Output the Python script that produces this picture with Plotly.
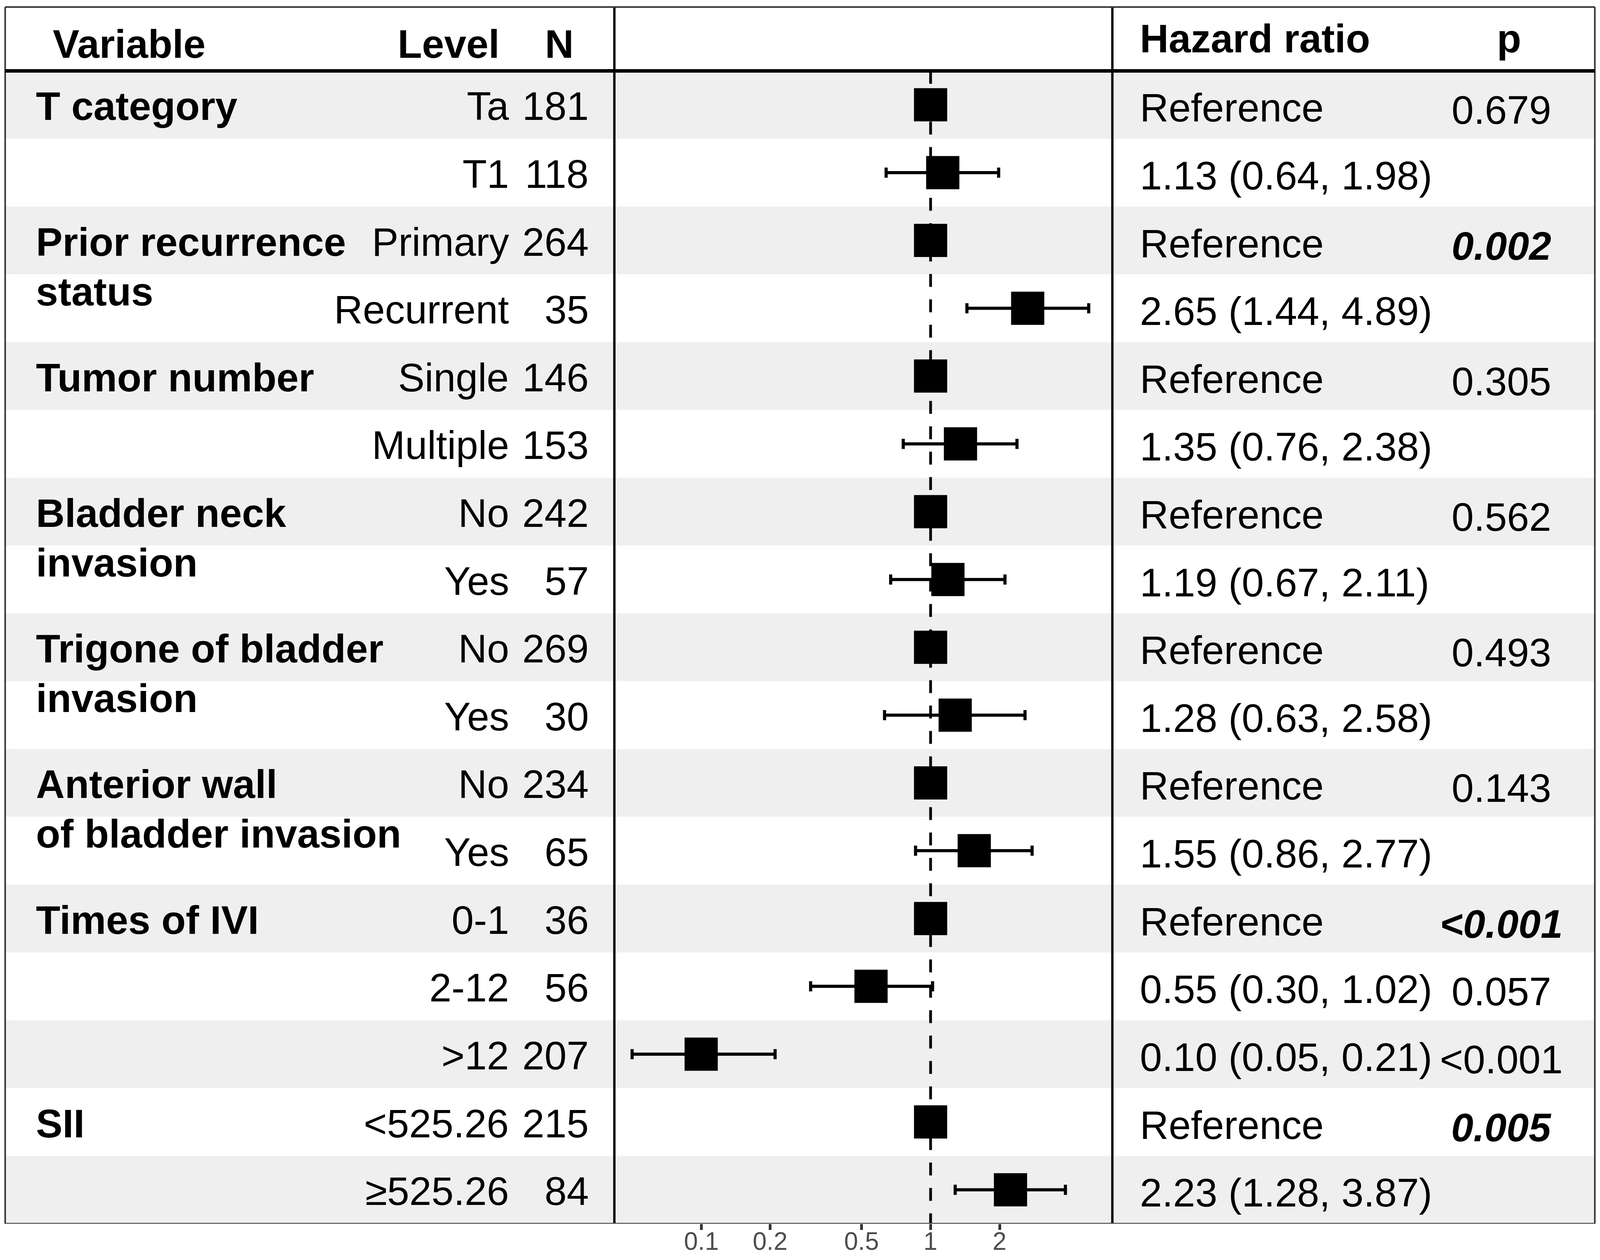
import math
import plotly.graph_objects as go

# table contents
variables = ["T category", "Prior recurrence\nstatus", "Tumor number", "Bladder neck\ninvasion",
             "Trigone of bladder\ninvasion", "Anterior wall\nof bladder invasion", "Times of IVI", "SII"]
variable_rows = [0, 2, 4, 6, 8, 10, 12, 15]

levels = ["Ta", "T1", "Primary", "Recurrent", "Single", "Multiple", "No", "Yes", "No", "Yes",
          "No", "Yes", "0-1", "2-12", "&gt;12", "&lt;525.26", "≥525.26"]
n_patients = [181, 118, 264, 35, 146, 153, 242, 57, 269, 30, 234, 65, 36, 56, 207, 215, 84]

hazard = [1, 1.13, 1, 2.65, 1, 1.35, 1, 1.19, 1, 1.28, 1, 1.55, 1, 0.55, 0.10, 1, 2.23]
ci_low = [None, 0.64, None, 1.44, None, 0.76, None, 0.67, None, 0.63, None, 0.86, None, 0.30, 0.05, None, 1.28]
ci_high = [None, 1.98, None, 4.89, None, 2.38, None, 2.11, None, 2.58, None, 2.77, None, 1.02, 0.21, None, 3.87]

p_values = ["0.679", "", "0.002", "", "0.305", "", "0.562", "", "0.493", "", "0.143", "",
            "&lt;0.001", "0.057", "&lt;0.001", "0.005", ""]
p_emphasis = [False, False, True, False, False, False, False, False, False, False, False, False,
              True, False, False, True, False]

tick_values = [0.1, 0.2, 0.5, 1, 2]
tick_labels = ["0.1", "0.2", "0.5", "1", "2"]

# the browser page is 4096 px wide, so the 4331 px wide layout is squeezed sideways
W, H = 4080, 3210
SX = 4096 / 4331
FONT = "Liberation Sans, Arial, sans-serif"
FS = 102
ROW_TOP, ROW_H = 174, 174.1
n_rows = len(levels)


def px(x):
    # x position measured on the reference -> paper fraction
    return (x * SX - 8) / W


rows_y = [i + 0.5 for i in range(n_rows)]
err_plus = [0 if h is None else h - r for r, h in zip(hazard, ci_high)]
err_minus = [0 if l is None else r - l for r, l in zip(hazard, ci_low)]

fig = go.Figure()
fig.add_trace(go.Scatter(
    x=hazard, y=rows_y, mode="markers",
    marker=dict(symbol="square", size=85, color="black", line=dict(width=0)),
    error_x=dict(type="data", symmetric=False, array=err_plus, arrayminus=err_minus,
                 thickness=8, width=13, color="black"),
    hoverinfo="skip", showlegend=False,
))

shapes = []
# alternating row shading
for i in range(0, n_rows, 2):
    shapes.append(dict(type="rect", xref="paper", yref="y", x0=px(14), x1=px(4317),
                       y0=i, y1=i + 1, fillcolor="#EFEFEF", line=dict(width=0), layer="below"))
# reference line at HR = 1
shapes.append(dict(type="line", xref="x", yref="y", x0=1, x1=1, y0=0, y1=n_rows,
                   line=dict(color="black", width=7, dash="33px,32px"), layer="below"))
# borders
top_y = (10 - ROW_TOP) / ROW_H
for x in [14, 4317]:
    shapes.append(dict(type="line", xref="paper", yref="y", x0=px(x), x1=px(x), y0=top_y, y1=n_rows,
                       line=dict(color="#333333", width=4)))
for x in [1663, 3011]:
    shapes.append(dict(type="line", xref="paper", yref="y", x0=px(x), x1=px(x), y0=top_y, y1=n_rows,
                       line=dict(color="black", width=6)))
shapes.append(dict(type="line", xref="paper", yref="y", x0=px(14), x1=px(4317), y0=top_y, y1=top_y,
                   line=dict(color="#333333", width=4)))
shapes.append(dict(type="line", xref="paper", yref="y", x0=px(14), x1=px(4317), y0=0, y1=0,
                   line=dict(color="black", width=9)))
shapes.append(dict(type="line", xref="paper", yref="y", x0=px(14), x1=px(4317), y0=n_rows, y1=n_rows,
                   line=dict(color="#333333", width=4)))

annotations = []


def text(x, y, s, anchor, shift=0, bold=False):
    if bold:
        s = "<b>" + s + "</b>"
    annotations.append(dict(xref="paper", yref="y", x=px(x), y=y, text=s, showarrow=False,
                            xanchor=anchor, yanchor="middle", yshift=shift,
                            font=dict(family=FONT, size=FS, color="black")))


# header
head_y = (91 - ROW_TOP) / ROW_H
text(141, head_y, "Variable", "left", -14, True)
text(1354, head_y, "Level", "right", -14, True)
text(1555, head_y, "N", "right", -14, True)
text(3083, head_y, "Hazard ratio", "left", 0, True)
text(4085, head_y, "p", "center", 0, True)

for name, r in zip(variables, variable_rows):
    for k, line in enumerate(name.split("\n")):
        text(95, rows_y[r], line, "left", -4 - 127 * k, True)

for i in range(n_rows):
    text(1380, rows_y[i], levels[i], "right", -4)
    text(1596, rows_y[i], str(n_patients[i]), "right", -4)
    if ci_low[i] is None:
        hr_txt = "Reference"
    else:
        hr_txt = f"{hazard[i]:.2f} ({ci_low[i]:.2f}, {ci_high[i]:.2f})"
    text(3083, rows_y[i], hr_txt, "left", -8)
    if p_values[i]:
        pv = "<b><i>" + p_values[i] + "</i></b>" if p_emphasis[i] else p_values[i]
        text(4064, rows_y[i], pv, "center", -14)

# tick labels sit closer to the ticks than plotly's default, so place them on the log axis directly
for v, lab in zip(tick_values, tick_labels):
    annotations.append(dict(xref="x", yref="y", x=math.log10(v), y=n_rows, text=lab, showarrow=False,
                            xanchor="center", yanchor="middle", yshift=-45,
                            font=dict(family=FONT, size=64, color="#4D4D4D")))

fig.update_layout(
    width=W, height=H,
    margin=dict(l=0, r=0, t=0, b=0),
    paper_bgcolor="white", plot_bgcolor="rgba(0,0,0,0)",
    font=dict(family=FONT),
    shapes=shapes, annotations=annotations,
    xaxis=dict(type="log", range=[-1.3784, 0.7923], domain=[px(1663), px(3011)],
               tickvals=tick_values, showticklabels=False, ticks="outside", ticklen=15,
               tickwidth=7, tickcolor="#333333", automargin=False,
               showgrid=False, zeroline=False, showline=False, fixedrange=True),
    yaxis=dict(range=[n_rows, (0 - ROW_TOP) / ROW_H], domain=[(H - 3125) / H, 1], automargin=False,
               showticklabels=False, showgrid=False, zeroline=False, showline=False, fixedrange=True),
)

fig.write_html("out.html")
